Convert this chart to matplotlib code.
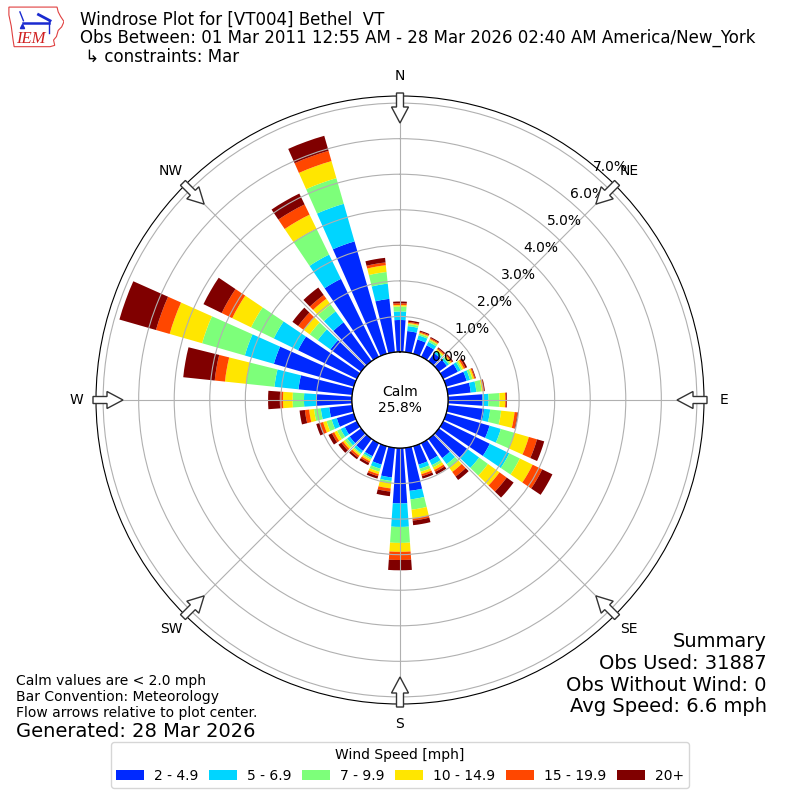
import numpy as np
import matplotlib
matplotlib.use("Agg")
import matplotlib.pyplot as plt
from matplotlib.patches import FancyArrow, Patch, Polygon

# ---------------- data ----------------
directions = np.arange(0, 360, 10)  # degrees, meteorological convention
speed_labels = ["2 - 4.9", "5 - 6.9", "7 - 9.9", "10 - 14.9", "15 - 19.9", "20+"]

# percent of observations per direction bin and speed bin
pct_2_5 = [0.90, 0.60, 0.42, 0.36, 0.28, 0.28, 0.46, 0.60, 0.65, 0.97, 1.03, 1.27,
           1.46, 0.98, 0.67, 0.54, 0.54, 1.22, 1.56, 0.84, 0.54, 0.41, 0.42, 0.40,
           0.38, 0.50, 0.65, 0.99, 1.52, 2.34, 1.84, 1.07, 1.35, 2.44, 3.29, 1.51]
pct_5_7 = [0.24, 0.14, 0.12, 0.11, 0.06, 0.07, 0.09, 0.10, 0.16, 0.17, 0.17, 0.33,
           0.61, 0.42, 0.21, 0.15, 0.12, 0.24, 0.66, 0.10, 0.12, 0.06, 0.08, 0.09,
           0.13, 0.15, 0.24, 0.36, 0.68, 0.85, 0.76, 0.44, 0.38, 0.76, 1.10, 0.43]
pct_7_10 = [0.14, 0.06, 0.05, 0.06, 0.04, 0.05, 0.05, 0.07, 0.15, 0.31, 0.31, 0.40,
            0.33, 0.31, 0.13, 0.07, 0.09, 0.29, 0.45, 0.06, 0.09, 0.05, 0.04, 0.08,
            0.11, 0.15, 0.19, 0.32, 0.80, 1.25, 0.71, 0.28, 0.24, 0.81, 0.75, 0.33]
pct_10_15 = [0.04, 0.03, 0.03, 0.03, 0.04, 0.04, 0.05, 0.05, 0.05, 0.16, 0.38, 0.42,
             0.40, 0.40, 0.14, 0.08, 0.07, 0.24, 0.25, 0.15, 0.07, 0.05, 0.05, 0.06,
             0.09, 0.10, 0.14, 0.27, 0.60, 0.95, 0.59, 0.21, 0.20, 0.44, 0.50, 0.19]
pct_15_20 = [0.05, 0.03, 0.03, 0.03, 0.03, 0.03, 0.05, 0.03, 0.02, 0.03, 0.08, 0.24,
             0.30, 0.25, 0.16, 0.06, 0.06, 0.07, 0.23, 0.09, 0.06, 0.05, 0.06, 0.06,
             0.07, 0.10, 0.12, 0.09, 0.29, 0.40, 0.33, 0.19, 0.13, 0.32, 0.30, 0.08]
pct_20p = [0.05, 0.04, 0.03, 0.03, 0.03, 0.03, 0.05, 0.02, 0.02, 0.02, 0.02, 0.21,
           0.32, 0.24, 0.12, 0.08, 0.07, 0.13, 0.29, 0.13, 0.07, 0.07, 0.06, 0.10,
           0.11, 0.10, 0.15, 0.33, 0.89, 1.07, 0.57, 0.20, 0.26, 0.34, 0.44, 0.13]

calm_pct = 25.8
r_ticks = [0, 1, 2, 3, 4, 5, 6, 7]
compass_labels = ["N", "NE", "E", "SE", "S", "SW", "W", "NW"]

title_lines = ["Windrose Plot for [VT004] Bethel  VT",
               "Obs Between: 01 Mar 2011 12:55 AM - 28 Mar 2026 02:40 AM America/New_York",
               " \u21b3 constraints: Mar"]
notes = ["Calm values are < 2.0 mph", "Bar Convention: Meteorology",
         "Flow arrows relative to plot center."]
generated = "Generated: 28 Mar 2026"
summary = ["Summary", "Obs Used: 31887", "Obs Without Wind: 0", "Avg Speed: 6.6 mph"]

# ---------------- figure ----------------
W = 800.0
fig = plt.figure(figsize=(8, 8), dpi=100)
ax = fig.add_axes([0.12, 0.12, 0.76, 0.76], projection="polar")
ax.set_theta_zero_location("N")
ax.set_theta_direction(-1)

series = [pct_2_5, pct_5_7, pct_7_10, pct_10_15, pct_15_20, pct_20p]
colors = plt.get_cmap("jet")(np.arange(1, 7) / 6.0)
theta = np.deg2rad(directions)
bottom = np.zeros(len(directions))
handles = []
for vals, c, lab in zip(series, colors, speed_labels):
    vals = np.asarray(vals)
    ax.bar(theta, vals, width=np.deg2rad(8), bottom=bottom, color=c,
           linewidth=0, align="center")
    bottom = bottom + vals
    handles.append(Patch(facecolor=c, label=lab))

circ = np.linspace(0, 2 * np.pi, 400)
ax.plot(circ, np.zeros_like(circ), color="black", lw=1.0, zorder=5)

ax.set_ylim(0, 7.2)
ax.set_rorigin(-1.35)
ax.set_yticks(r_ticks)
ax.set_yticklabels([f"{t:.1f}%" for t in r_ticks], fontsize=10)
ax.set_rlabel_position(40.5)
ax.set_xticks(np.deg2rad(np.arange(0, 360, 45)))
ax.set_xticklabels([])
ax.grid(True, color="#b0b0b0", lw=0.8)

# compass labels + flow arrows
cx, cy = 0.5, 0.5
for i, lab in enumerate(compass_labels):
    ang = np.deg2rad(45 * i)
    ux, uy = np.sin(ang), np.cos(ang)
    r0, r1 = 307 / W, 277 / W
    arr = FancyArrow(cx + r0 * ux, cy + r0 * uy, (r1 - r0) * ux, (r1 - r0) * uy,
                     width=7 / W, head_width=17 / W, head_length=16 / W,
                     length_includes_head=True, transform=fig.transFigure,
                     facecolor="white", edgecolor="#333333", lw=1.0, zorder=10)
    fig.add_artist(arr)
    fig.text(cx + 324 / W * ux, cy + 324 / W * uy, lab, ha="center", va="center",
             fontsize=10)

fig.text(0.5, 0.5, f"Calm\n{calm_pct:.1f}%", ha="center", va="center", fontsize=10,
         zorder=20)

# titles
for txt, yb in zip(title_lines, [25, 43, 62]):
    fig.text(80 / W, 1 - yb / W, txt, fontsize=12, va="baseline", ha="left")

# notes
for txt, yb in zip(notes, [685, 701, 717]):
    fig.text(16 / W, 1 - yb / W, txt, fontsize=10, va="baseline", ha="left")
fig.text(16 / W, 1 - 737 / W, generated, fontsize=14, va="baseline", ha="left")

for txt, yb in zip(summary, [647, 669, 691, 712]):
    fig.text(767 / W, 1 - yb / W, txt, fontsize=14, va="baseline", ha="right")

fig.legend(handles=handles, loc="upper center", bbox_to_anchor=(0.5, 1 - 742 / W),
           borderaxespad=0, ncol=6, title="Wind Speed [mph]", fontsize=10,
           title_fontsize=10, columnspacing=0.8, handletextpad=0.7)

# simple IEM logo
lax = fig.add_axes([6 / W, 1 - 48 / W, 58 / W, 44 / W])
lax.set_xlim(0, 1)
lax.set_ylim(0, 1)
lax.axis("off")
iowa = [(0.05, 0.93), (0.88, 0.93), (0.90, 0.82), (0.94, 0.72), (1.00, 0.60),
        (0.96, 0.48), (0.90, 0.40), (0.87, 0.26), (0.82, 0.18), (0.84, 0.06),
        (0.76, 0.03), (0.14, 0.03), (0.12, 0.20), (0.09, 0.50), (0.05, 0.75)]
lax.add_patch(Polygon(iowa, closed=True, fill=False, edgecolor="#e04040", lw=0.8))
lax.plot([0.30, 0.74], [0.56, 0.56], color="#1a2ad0", lw=1.8)
lax.plot([0.56, 0.76], [0.76, 0.62], color="#1a2ad0", lw=2.0)
lax.plot([0.74, 0.74], [0.62, 0.35], color="#1a2ad0", lw=1.0)
lax.plot([0.24, 0.30], [0.82, 0.62], color="#1a2ad0", lw=1.0)
lax.plot([0.27], [0.50], marker="^", color="#1a2ad0", ms=3)
lax.text(0.42, 0.20, "IEM", color="#d02020", fontsize=12, style="italic",
         family="Liberation Serif", ha="center", va="center")

fig.savefig("out.png", dpi=100)
